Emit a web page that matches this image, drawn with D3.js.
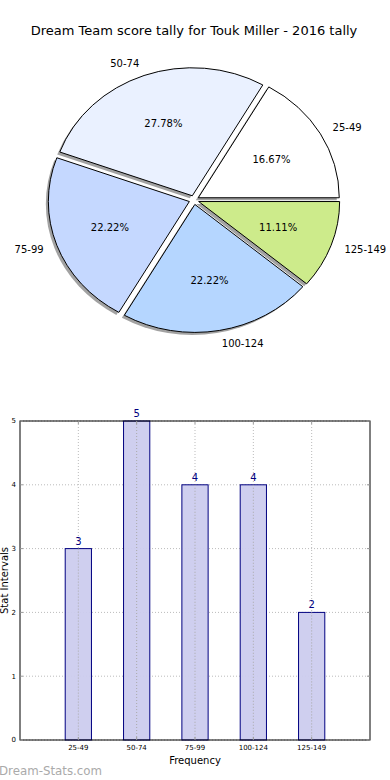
<!DOCTYPE html>
<html>
<head>
<meta charset="utf-8">
<script src="https://cdn.jsdelivr.net/npm/d3@7"></script>
<style>
  body { margin: 0; background: #fff; }
  svg { font-family: "DejaVu Sans", sans-serif; }
</style>
</head>
<body>
<script>
// score tally data
var categories = ["25-49", "50-74", "75-99", "100-124", "125-149"]
var counts = [3, 5, 4, 4, 2]
var pieColors = ["#ffffff", "#eaf1ff", "#c5d8ff", "#b5d6ff", "#cdeb8b"]
var yTicks = [0, 1, 2, 3, 4, 5]

WIDTH = 390
HEIGHT = 780
EXPLODE = 0.035

var svg = d3.select("body").append("svg")
  .attr("width", WIDTH).attr("height", HEIGHT)

svg.append("text")
  .attr("x", WIDTH / 2 - 1).attr("y", 35)
  .attr("text-anchor", "middle")
  .attr("font-size", 13)
  .text("Dream Team score tally for Touk Miller - 2016 tally")

// ---- pie ----
var cx = 194, cy = 200, rx = 141, ry = 128
var total = d3.sum(counts)

// matplotlib style: start at 3 o'clock, counter clockwise
var pie = d3.pie().sort(null)
  .startAngle(Math.PI / 2)
  .endAngle(Math.PI / 2 - 2 * Math.PI)
var arcs = pie(counts)
var arc = d3.arc().innerRadius(0).outerRadius(1)

function offset(d, k) {
  var a = (d.startAngle + d.endAngle) / 2
  return [Math.sin(a) * k, -Math.cos(a) * k]
}

var pieG = svg.append("g")

// shadows first
arcs.forEach(function(d) {
  var o = offset(d, EXPLODE)
  pieG.append("path")
    .attr("d", arc(d))
    .attr("transform", "translate(" + (cx + o[0] * rx - 2.5) + "," + (cy + o[1] * ry + 2.5) + ") scale(" + rx + "," + ry + ")")
    .attr("fill", "#555")
    .attr("opacity", 0.55)
})

arcs.forEach(function(d, i) {
  var o = offset(d, EXPLODE)
  pieG.append("path")
    .attr("d", arc(d))
    .attr("transform", "translate(" + (cx + o[0] * rx) + "," + (cy + o[1] * ry) + ") scale(" + rx + "," + ry + ")")
    .attr("fill", pieColors[i])
    .attr("stroke", "#000")
    .attr("stroke-width", 1)
    .attr("vector-effect", "non-scaling-stroke")
})

arcs.forEach(function(d, i) {
  var o = offset(d, EXPLODE)
  var l = offset(d, 1.1)
  var p = offset(d, 0.6)
  var lx = cx + (o[0] + l[0]) * rx
  var ly = cy + (o[1] + l[1]) * ry
  pieG.append("text")
    .attr("x", lx).attr("y", ly)
    .attr("dy", "0.35em")
    .attr("text-anchor", l[0] >= 0 ? "start" : "end")
    .attr("font-size", 10)
    .text(categories[i])
  pieG.append("text")
    .attr("x", cx + (o[0] + p[0]) * rx).attr("y", cy + (o[1] + p[1]) * ry)
    .attr("dy", "0.35em")
    .attr("text-anchor", "middle")
    .attr("font-size", 10)
    .text((counts[i] / total * 100).toFixed(2) + "%")
})

// ---- bar chart ----
var plotLeft = 20, plotRight = 370, plotTop = 421, plotBottom = 740
var x = d3.scaleLinear().domain([-1, 5]).range([plotLeft, plotRight])
var y = d3.scaleLinear().domain([0, 5]).range([plotBottom, plotTop])
var barW = 0.45

var barG = svg.append("g")

// grid
yTicks.forEach(function(t) {
  barG.append("line")
    .attr("x1", plotLeft).attr("x2", plotRight)
    .attr("y1", y(t)).attr("y2", y(t))
    .attr("stroke", "#bbb").attr("stroke-dasharray", "1,2")
})
categories.forEach(function(c, i) {
  barG.append("line")
    .attr("x1", x(i)).attr("x2", x(i))
    .attr("y1", plotTop).attr("y2", plotBottom)
    .attr("stroke", "#bbb").attr("stroke-dasharray", "1,2")
})

counts.forEach(function(v, i) {
  barG.append("rect")
    .attr("x", x(i - barW / 2)).attr("y", y(v))
    .attr("width", x(barW) - x(0)).attr("height", y(0) - y(v))
    .attr("fill", "#ccccee").attr("fill-opacity", 0.95)
    .attr("stroke", "#000080").attr("stroke-width", 1)
  barG.append("text")
    .attr("x", x(i)).attr("y", y(v) - 4)
    .attr("text-anchor", "middle")
    .attr("font-size", 10)
    .attr("fill", "#000080")
    .text(v)
})

// grid shows through the bars in the picture
categories.forEach(function(c, i) {
  barG.append("line")
    .attr("x1", x(i)).attr("x2", x(i))
    .attr("y1", y(counts[i])).attr("y2", plotBottom)
    .attr("stroke", "#aaa").attr("stroke-dasharray", "1,2")
})

// frame
barG.append("rect")
  .attr("x", plotLeft).attr("y", plotTop)
  .attr("width", plotRight - plotLeft).attr("height", plotBottom - plotTop)
  .attr("fill", "none").attr("stroke", "#000").attr("stroke-width", 1)

// ticks
yTicks.forEach(function(t) {
  barG.append("line").attr("x1", plotLeft).attr("x2", plotLeft + 3)
    .attr("y1", y(t)).attr("y2", y(t)).attr("stroke", "#999")
  barG.append("line").attr("x1", plotRight - 3).attr("x2", plotRight)
    .attr("y1", y(t)).attr("y2", y(t)).attr("stroke", "#999")
  barG.append("text")
    .attr("x", plotLeft - 4).attr("y", y(t))
    .attr("dy", "0.35em")
    .attr("text-anchor", "end")
    .attr("font-size", 7)
    .text(t)
})
categories.forEach(function(c, i) {
  barG.append("line").attr("x1", x(i)).attr("x2", x(i))
    .attr("y1", plotTop).attr("y2", plotTop + 3).attr("stroke", "#999")
  barG.append("line").attr("x1", x(i)).attr("x2", x(i))
    .attr("y1", plotBottom - 3).attr("y2", plotBottom).attr("stroke", "#999")
  barG.append("text")
    .attr("x", x(i)).attr("y", plotBottom + 10)
    .attr("text-anchor", "middle")
    .attr("font-size", 7)
    .text(c)
})

barG.append("text")
  .attr("x", (plotLeft + plotRight) / 2).attr("y", 764)
  .attr("text-anchor", "middle")
  .attr("font-size", 10)
  .text("Frequency")

barG.append("text")
  .attr("transform", "translate(8," + ((plotTop + plotBottom) / 2) + ")rotate(-90)")
  .attr("text-anchor", "middle")
  .attr("font-size", 10)
  .text("Stat Intervals")

svg.append("text")
  .attr("x", -1).attr("y", 775)
  .attr("font-size", 11.8)
  .attr("fill", "#aaa")
  .text("Dream-Stats.com")
</script>
</body>
</html>
